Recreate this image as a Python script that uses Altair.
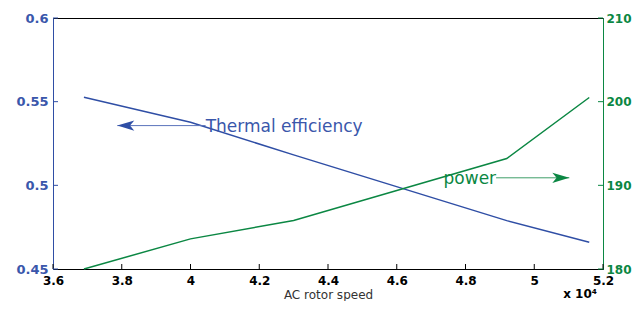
import altair as alt
import pandas as pd

# ---- data ----
speed = [36900, 40000, 43000, 49200, 51600]          # AC rotor speed (rpm)
efficiency = [0.5526, 0.5377, 0.5182, 0.4789, 0.4660]  # thermal efficiency
power = [180.0, 183.6, 185.8, 193.2, 200.5]           # power

x_ticks = [36000, 38000, 40000, 42000, 44000, 46000, 48000, 50000, 52000]
eff_ticks = [0.45, 0.5, 0.55, 0.6]
pow_ticks = [180, 190, 200, 210]

eff_label = ["Thermal efficiency"]
eff_label_tail = [40440]
eff_label_tip = [37870]
eff_label_y = [0.5357]

pow_label = ["power"]
pow_label_tail = [48890]
pow_label_tip = [51020]
pow_label_y = [190.9]

# ---- styling ----
BLUE = "#2f4ea5"
BLUE_TXT = "#3a57ab"
GREEN = "#0b8743"
FONT = "DejaVu Sans"
W, H = 550, 251

line_df = pd.DataFrame({"speed": speed, "eff": efficiency, "pow": power})
xt_df = pd.DataFrame({"speed": x_ticks})
et_df = pd.DataFrame({"eff": eff_ticks})
pt_df = pd.DataFrame({"pow": pow_ticks})
ea_df = pd.DataFrame({"label": eff_label, "speed": eff_label_tail,
                      "tip": eff_label_tip, "eff": eff_label_y})
pa_df = pd.DataFrame({"label": pow_label, "speed": pow_label_tail,
                      "tip": pow_label_tip, "pow": pow_label_y})

x_scale = alt.Scale(domain=[36000, 52000], nice=False, zero=False)
eff_scale = alt.Scale(domain=[0.45, 0.6], nice=False, zero=False)
pow_scale = alt.Scale(domain=[180, 210], nice=False, zero=False)

x_axis = alt.Axis(values=x_ticks, labelExpr="format(datum.value / 10000, '~g')",
                  ticks=False, grid=False, domainColor="black", domainWidth=1,
                  labelColor="black", labelFont=FONT, labelFontSize=12,
                  labelFontWeight="bold", labelPadding=6, labelFlush=False,
                  labelOverlap=False,
                  title="AC rotor speed", titleFont=FONT, titleFontSize=12,
                  titleFontWeight="normal", titleColor="#333333",
                  titleBaseline="alphabetic", titleY=29)
# the same shared x encoding for every layer (an axis=None layer would
# disable the merged shared axis)
x_main = alt.X("speed:Q", scale=x_scale, axis=x_axis)
x_tip = alt.X("tip:Q", scale=x_scale, axis=x_axis)

eff_line = alt.Chart(line_df).mark_line(color=BLUE, strokeWidth=1.5).encode(
    x=x_main,
    y=alt.Y("eff:Q", scale=eff_scale,
            axis=alt.Axis(orient="left", values=eff_ticks,
                          labelExpr="format(datum.value, '~g')", ticks=False,
                          grid=False, domainColor=BLUE, domainWidth=1,
                          labelColor=BLUE_TXT, labelFont=FONT, labelFontSize=13,
                          labelFontWeight="bold", labelPadding=5, title=None)),
)
pow_line = alt.Chart(line_df).mark_line(color=GREEN, strokeWidth=1.5).encode(
    x=x_main,
    y=alt.Y("pow:Q", scale=pow_scale,
            axis=alt.Axis(orient="right", values=pow_ticks, ticks=False,
                          grid=False, domainColor=GREEN, domainWidth=1,
                          labelColor=GREEN, labelFont=FONT, labelFontSize=12,
                          labelFontWeight="bold", labelPadding=3, title=None)),
)

x_tick_rules = alt.Chart(xt_df).mark_rule(color="black", strokeWidth=1).encode(
    x=x_main, y=alt.value(H), y2=alt.value(H - 5))
eff_tick_rules = alt.Chart(et_df).mark_rule(color=BLUE, strokeWidth=1).encode(
    y=alt.Y("eff:Q", scale=eff_scale, axis=None), x=alt.value(0), x2=alt.value(5))
pow_tick_rules = alt.Chart(pt_df).mark_rule(color=GREEN, strokeWidth=1).encode(
    y=alt.Y("pow:Q", scale=pow_scale, axis=None), x=alt.value(W), x2=alt.value(W - 5))

eff_shaft = alt.Chart(ea_df).mark_rule(color="#5a72bb", strokeWidth=1).encode(
    x=x_main, x2="tip:Q", y=alt.Y("eff:Q", scale=eff_scale, axis=None))
eff_head = alt.Chart(ea_df).mark_point(
    shape="M0,0 L2,-0.6 L1.5,0 L2,0.6 Z", size=289, filled=True,
    color=BLUE, opacity=1, strokeWidth=0).encode(
    x=x_tip, y=alt.Y("eff:Q", scale=eff_scale, axis=None))
eff_text = alt.Chart(ea_df).mark_text(
    align="left", baseline="middle", font=FONT, fontSize=17,
    color=BLUE_TXT, dy=1).encode(
    x=x_main, y=alt.Y("eff:Q", scale=eff_scale, axis=None), text="label:N")

pow_shaft = alt.Chart(pa_df).mark_rule(color="#3f9e68", strokeWidth=1).encode(
    x=x_main, x2="tip:Q", y=alt.Y("pow:Q", scale=pow_scale, axis=None))
pow_head = alt.Chart(pa_df).mark_point(
    shape="M0,0 L-2,-0.6 L-1.5,0 L-2,0.6 Z", size=289, filled=True,
    color=GREEN, opacity=1, strokeWidth=0).encode(
    x=x_tip, y=alt.Y("pow:Q", scale=pow_scale, axis=None))
pow_text = alt.Chart(pa_df).mark_text(
    align="right", baseline="middle", font=FONT, fontSize=17,
    color=GREEN, dy=1).encode(
    x=x_main, y=alt.Y("pow:Q", scale=pow_scale, axis=None), text="label:N")

exp_text = alt.Chart(ea_df).mark_text(
    align="right", baseline="alphabetic", font=FONT, fontSize=12,
    fontWeight="bold", color="black").encode(
    x=alt.value(W - 6), y=alt.value(H + 29), text=alt.value("x 10\u2074"))

chart = alt.layer(
    eff_line, pow_line, x_tick_rules, eff_tick_rules, pow_tick_rules,
    eff_shaft, eff_head, eff_text, pow_shaft, pow_head, pow_text, exp_text,
).resolve_scale(y="independent").properties(
    width=W, height=H,
    padding={"left": 45, "top": 10, "right": 29, "bottom": 32},
    autosize=alt.AutoSizeParams(type="none"),
    background="white",
).configure_view(stroke="black", strokeWidth=1)

chart.save("out.html", embed_options={"renderer": "svg", "actions": False})
